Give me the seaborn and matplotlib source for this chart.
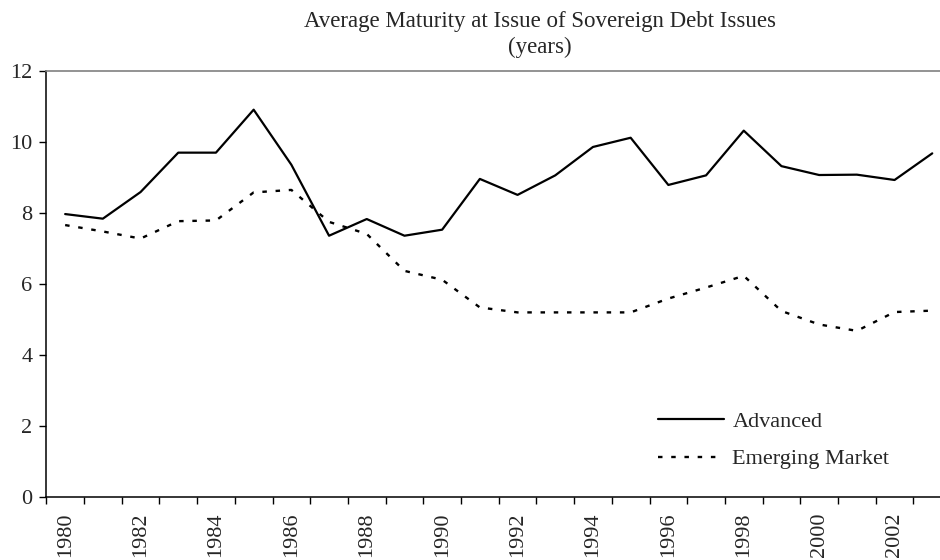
import matplotlib
matplotlib.use("Agg")
import matplotlib.pyplot as plt
import seaborn as sns
import pandas as pd
from matplotlib.ticker import FixedLocator, NullFormatter

years = list(range(1980, 2004))
advanced = [7.97, 7.84, 8.59, 9.70, 9.70, 10.91, 9.36, 7.36, 7.83, 7.36, 7.53, 8.96,
            8.51, 9.06, 9.86, 10.12, 8.79, 9.06, 10.32, 9.32, 9.07, 9.08, 8.93, 9.68]
emerging = [7.66, 7.48, 7.28, 7.77, 7.79, 8.58, 8.65, 7.75, 7.41, 6.37, 6.12, 5.34,
            5.20, 5.20, 5.20, 5.20, 5.59, 5.90, 6.23, 5.24, 4.86, 4.68, 5.21, 5.25]
label_years = [y for y in years if y % 2 == 0]
y_ticks = [0, 2, 4, 6, 8, 10, 12]
title_line1 = "Average Maturity at Issue of Sovereign Debt Issues"
title_line2 = "(years)"
series_names = ["Advanced", "Emerging Market"]

sns.set_style("white")
plt.rcParams["font.family"] = ["Liberation Serif", "DejaVu Serif"]
plt.rcParams["font.size"] = 16

df = pd.DataFrame({"year": years, "Advanced": advanced, "Emerging Market": emerging})

fig = plt.figure(figsize=(9.4, 5.6), dpi=100)
ax_left, ax_bottom = 46.3 / 940, 63 / 560
ax_w, ax_h = (951.1 - 46.3) / 940, (497 - 71) / 560
ax = fig.add_axes([ax_left, ax_bottom, ax_w, ax_h])

sns.lineplot(data=df, x="year", y="Advanced", ax=ax, color="black", lw=1.6,
             label=series_names[0])
sns.lineplot(data=df, x="year", y="Emerging Market", ax=ax, color="black", lw=1.7,
             linestyle=(0, (1.9, 3.7)), dash_capstyle="butt", label=series_names[1])

ax.set_xlim(years[0] - 0.5, years[-1] + 0.5)
ax.set_ylim(0, 12)
ax.set_xlabel("")
ax.set_ylabel("")

# category boundaries as major ticks (no labels), labels at even years via minor ticks
bounds = [y - 0.5 for y in years] + [years[-1] + 0.5]
ax.xaxis.set_major_locator(FixedLocator(bounds))
ax.xaxis.set_major_formatter(NullFormatter())
ax.xaxis.set_minor_locator(FixedLocator(label_years))
ax.set_xticklabels([str(y) for y in label_years], minor=True, rotation=90)
ax.tick_params(axis="x", which="major", direction="out", length=5, width=1, color="black", bottom=True)
ax.tick_params(axis="x", which="minor", length=0, pad=11, labelsize=16, bottom=True)

ax.set_yticks(y_ticks)
ax.set_yticklabels([str(v) for v in y_ticks])
ax.tick_params(axis="y", direction="out", length=5, width=1, color="black", pad=5, labelsize=16, left=True)

for side in ["left", "bottom"]:
    ax.spines[side].set_color("black")
    ax.spines[side].set_linewidth(1.1)
for side in ["top", "right"]:
    ax.spines[side].set_color("#808080")
    ax.spines[side].set_linewidth(1.2)

title_cx = 540 / 940
fig.text(title_cx, 1 - 26.7 / 560, title_line1, ha="center", va="baseline", fontsize=16.5)
fig.text(title_cx, 1 - 53 / 560, title_line2, ha="center", va="baseline", fontsize=16.5)

leg = ax.legend(loc="upper left", bbox_to_anchor=(0.700, 0.2655), bbox_transform=fig.transFigure,
                frameon=False, handlelength=2.95, handletextpad=0.4, labelspacing=0.76,
                borderpad=0, borderaxespad=0, fontsize=16)

fig.savefig("out.png", dpi=100)
